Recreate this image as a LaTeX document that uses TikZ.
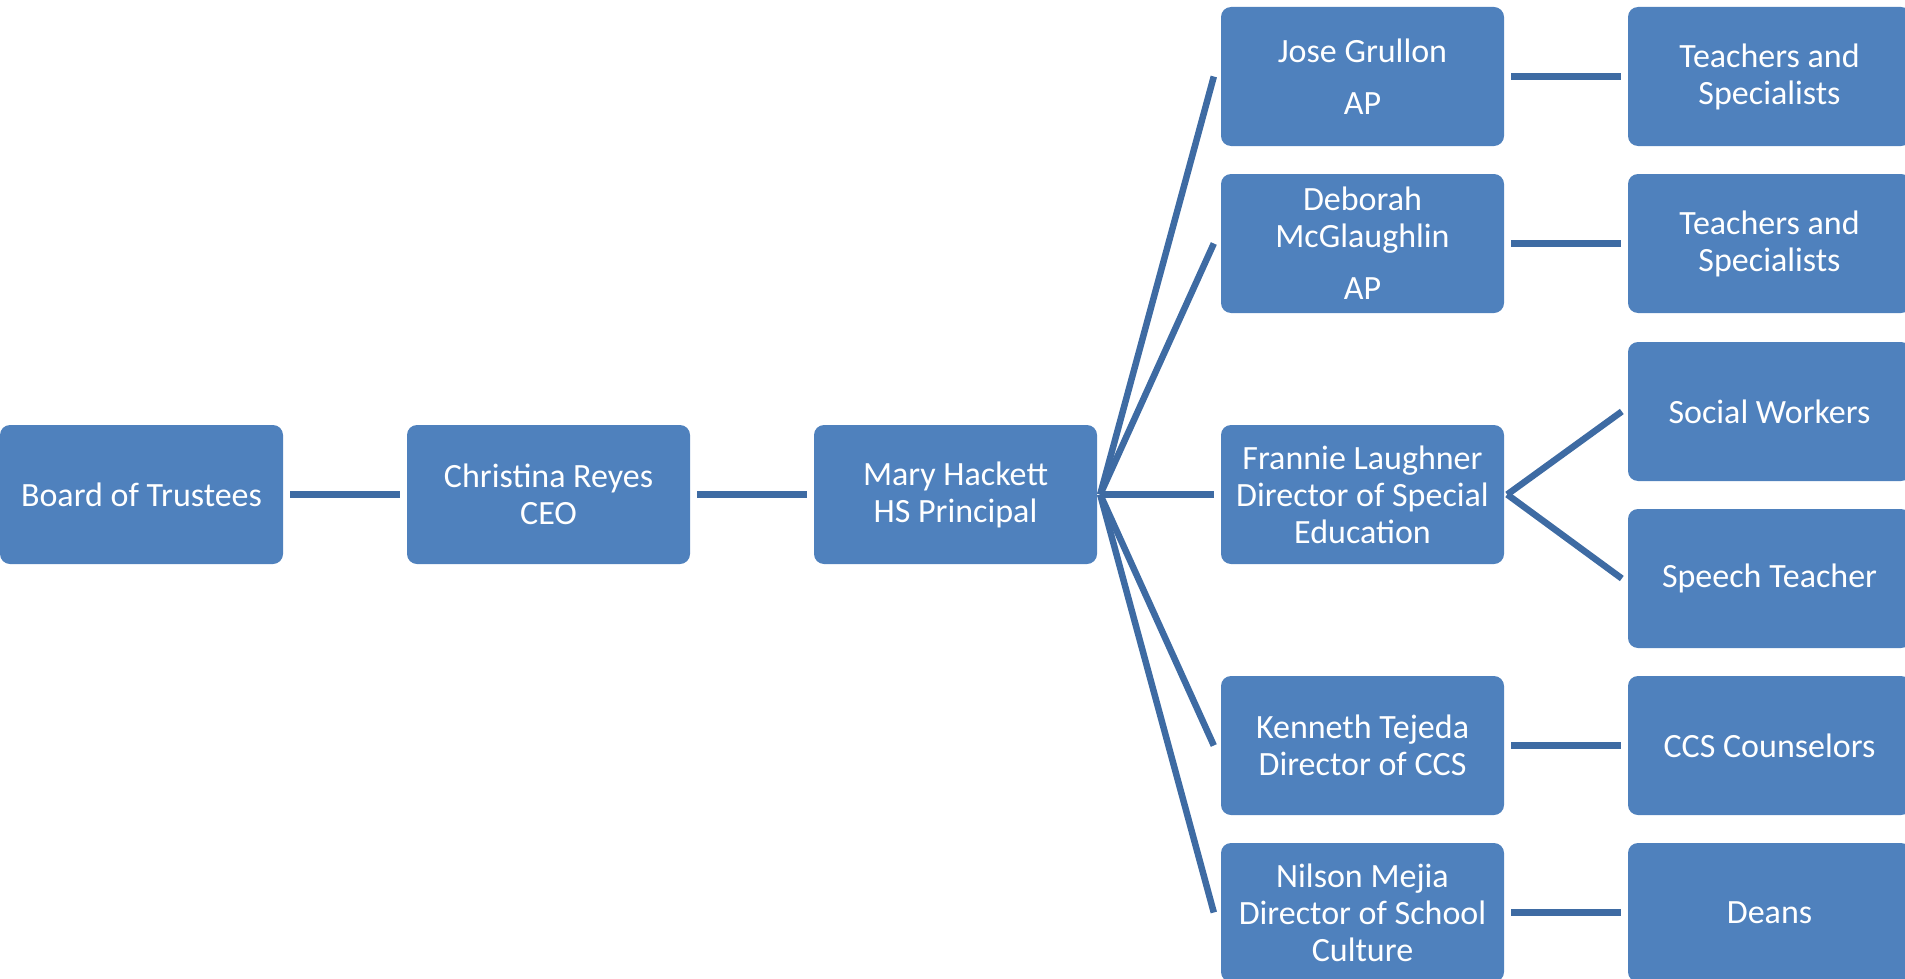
\documentclass[tikz,border=0pt]{standalone}
\usepackage{fontspec}
\setmainfont{Carlito}
\definecolor{boxblue}{HTML}{4F81BD}
\definecolor{lineblue}{HTML}{3E6BA3}
\begin{document}
\begin{tikzpicture}[x=1pt,y=-1pt,
  orgbox/.style={fill=boxblue, rounded corners=10pt, minimum width=283pt, minimum height=139pt,
    inner sep=0pt, text=white, align=center, font=\fontsize{34pt}{37pt}\selectfont},
  link/.style={draw=lineblue, line width=6.5pt}]
\useasboundingbox (0,0) rectangle (1905,979);
\clip (0,0) rectangle (1905,979);
% column 0-2
\node[orgbox] (board) at (141.5,494.5) {Board of Trustees};
\node[orgbox] (ceo) at (548.5,494.5) {Christina Reyes\\CEO};
\node[orgbox] (mary) at (955.5,494.5) {Mary Hackett\\HS Principal};
% column 3
\node[orgbox] (jose) at (1362.5,76.5) {Jose Grullon\\[15pt]AP};
\node[orgbox] (deborah) at (1362.5,243.5) {Deborah\\McGlaughlin\\[15pt]AP};
\node[orgbox] (frannie) at (1362.5,494.5) {Frannie Laughner\\Director of Special\\Education};
\node[orgbox] (kenneth) at (1362.5,745.5) {Kenneth Tejeda\\Director of CCS};
\node[orgbox] (nilson) at (1362.5,912.5) {Nilson Mejia\\Director of School\\Culture};
% column 4
\node[orgbox] (teach1) at (1769.5,76.5) {Teachers and\\Specialists};
\node[orgbox] (teach2) at (1769.5,243.5) {Teachers and\\Specialists};
\node[orgbox] (social) at (1769.5,411.5) {Social Workers};
\node[orgbox] (speech) at (1769.5,578.5) {Speech Teacher};
\node[orgbox] (ccs) at (1769.5,745.5) {CCS Counselors};
\node[orgbox] (deans) at (1769.5,912.5) {Deans};
% connectors
\draw[link] ([xshift=7pt]board.east) -- ([xshift=-7pt]ceo.west);
\draw[link] ([xshift=7pt]ceo.east) -- ([xshift=-7pt]mary.west);
\coordinate (mfan) at ([xshift=3pt]mary.east);
\foreach \t in {jose,deborah,frannie,kenneth,nilson}
  \draw[link] (mfan) -- ([xshift=-7pt]\t.west);
\draw[link] ([xshift=7pt]jose.east) -- ([xshift=-7pt]teach1.west);
\draw[link] ([xshift=7pt]deborah.east) -- ([xshift=-7pt]teach2.west);
\coordinate (ffan) at ([xshift=3pt]frannie.east);
\draw[link] (ffan) -- ([xshift=-6pt]social.west);
\draw[link] (ffan) -- ([xshift=-6pt]speech.west);
\draw[link] ([xshift=7pt]kenneth.east) -- ([xshift=-7pt]ccs.west);
\draw[link] ([xshift=7pt]nilson.east) -- ([xshift=-7pt]deans.west);
\end{tikzpicture}
\end{document}
